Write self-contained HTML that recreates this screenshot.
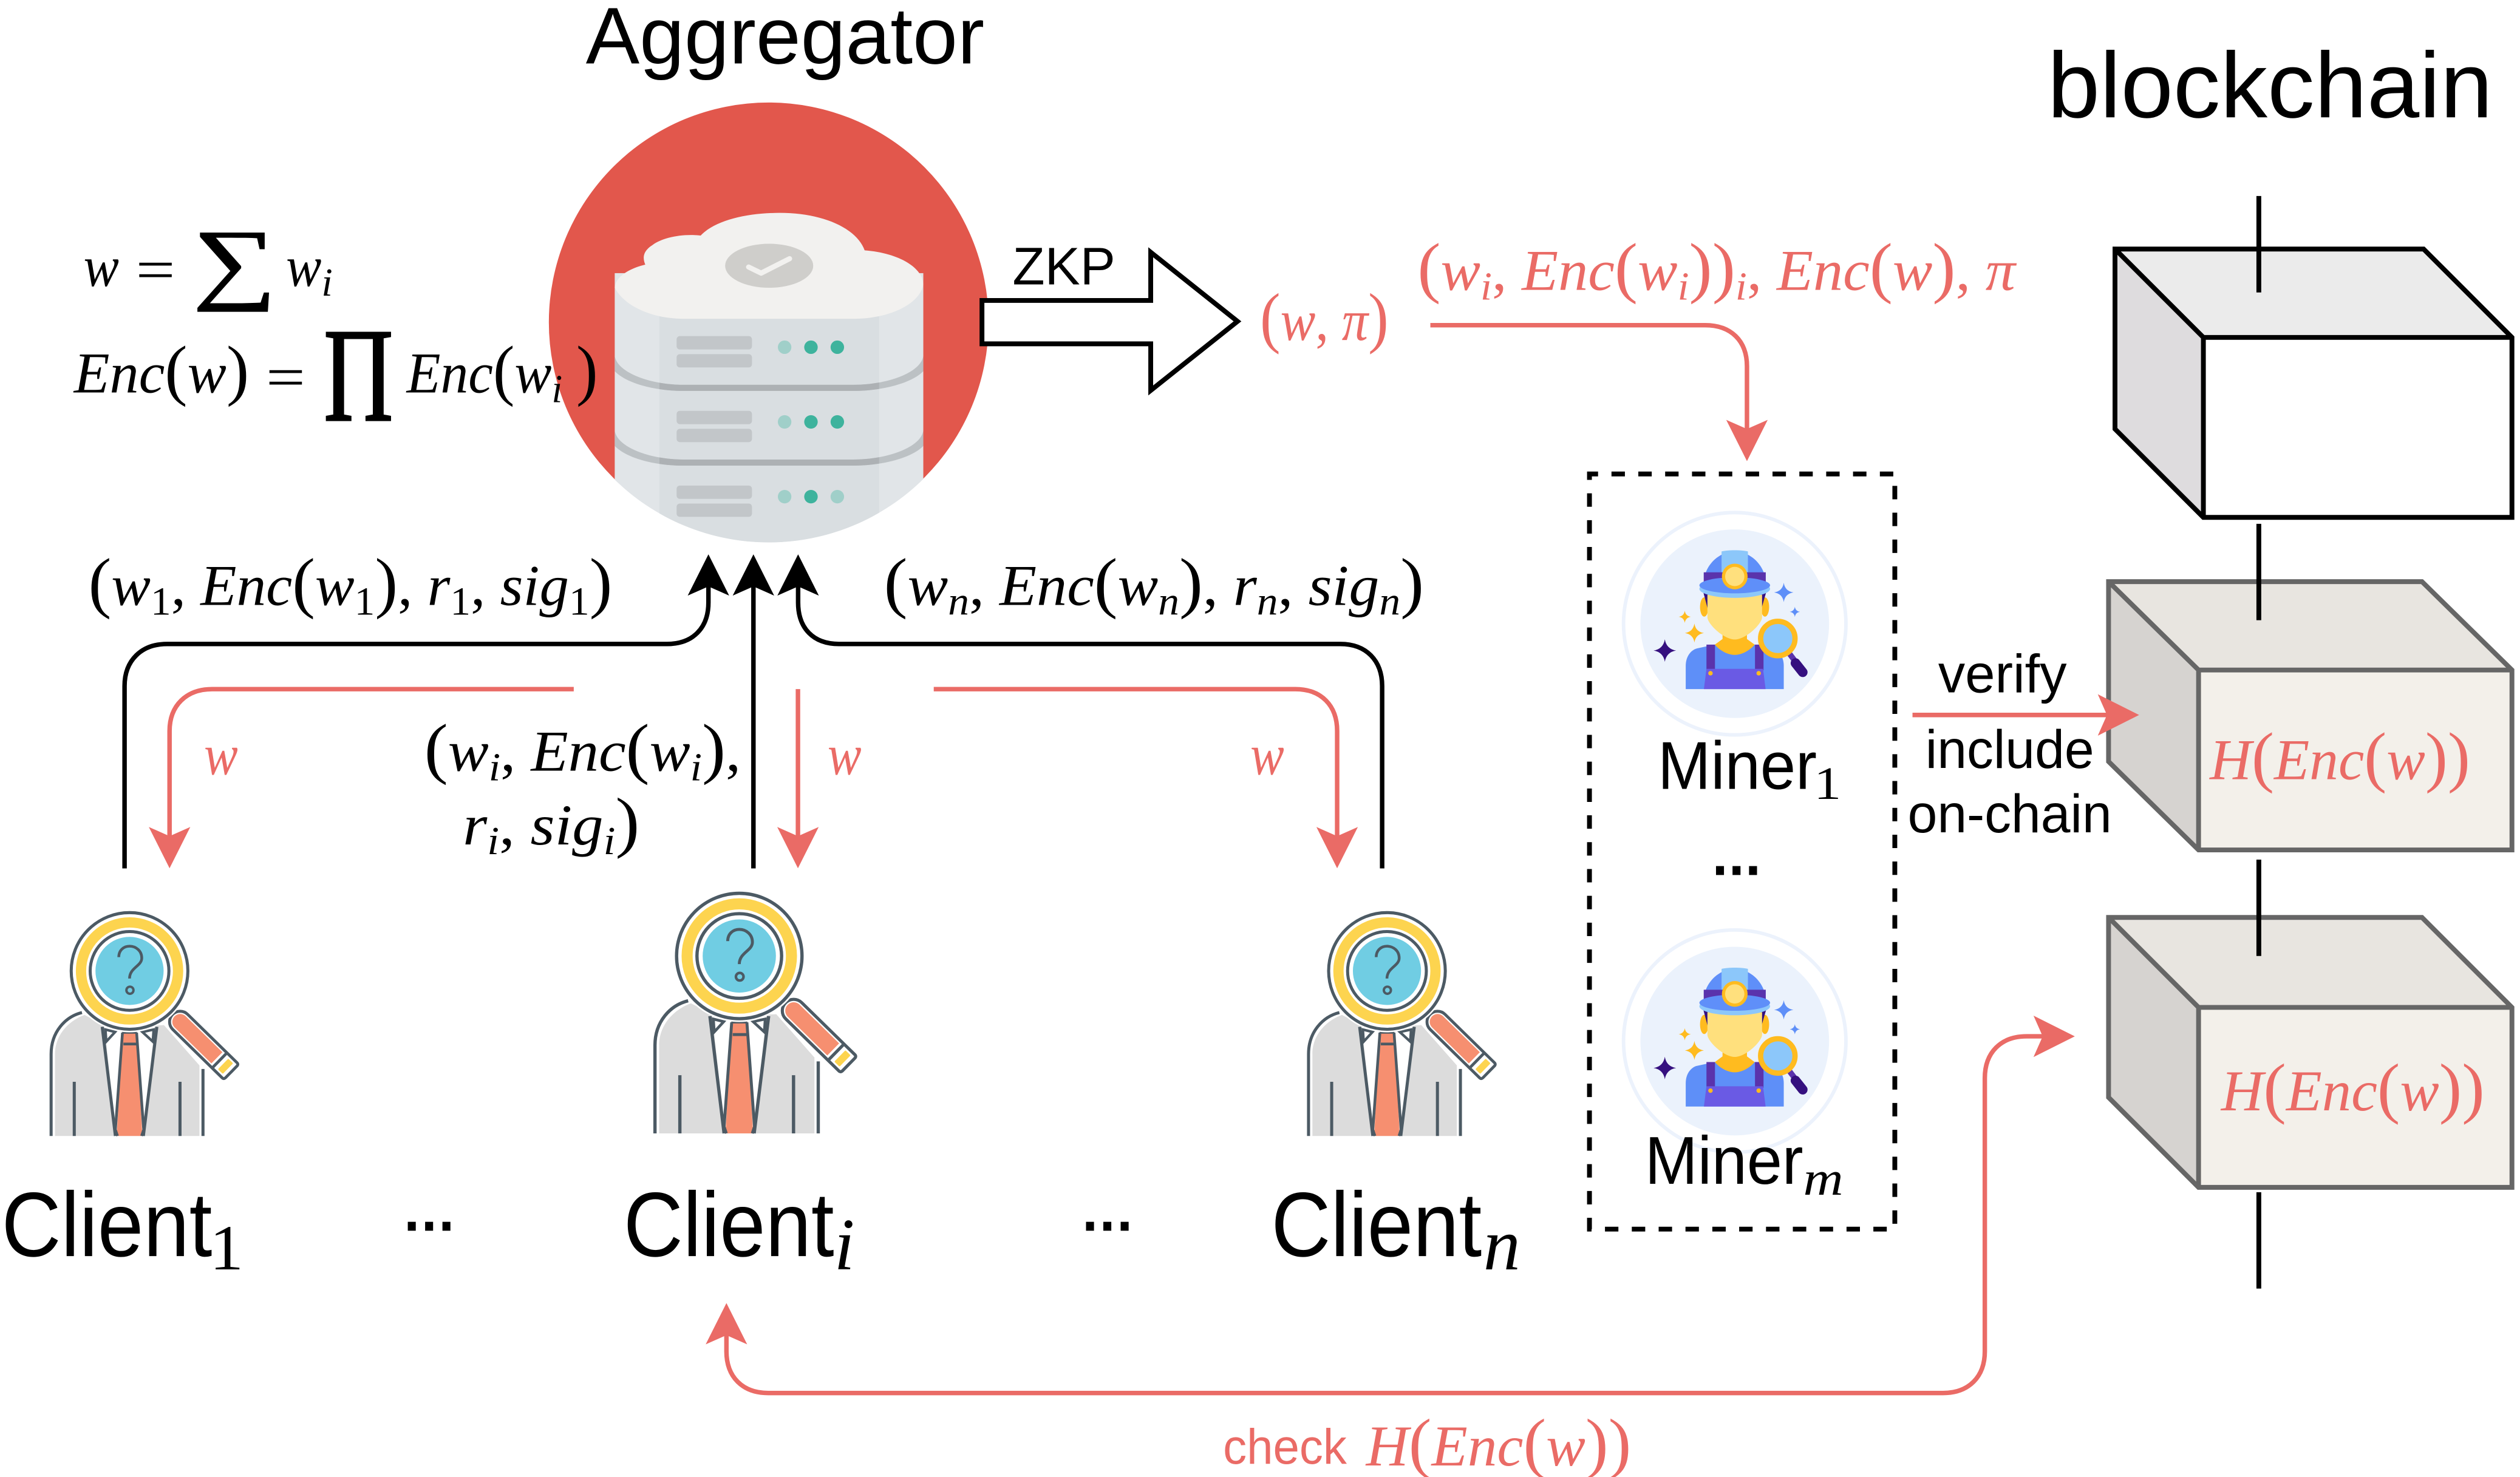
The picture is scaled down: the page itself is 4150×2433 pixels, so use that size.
<!DOCTYPE html>
<html><head><meta charset="utf-8">
<style>
html,body{margin:0;padding:0;background:#fff}
svg{display:block}
text{font-family:"Liberation Sans",sans-serif;fill:#000;white-space:pre}
.m{font-family:"Liberation Serif",serif;font-size:36px}
.r{fill:#ea6b66}
.i{font-style:italic}
.s{font-size:25px}
.p{font-size:42px}
.ln{fill:none;stroke:#000;stroke-width:2.8}
.rl{fill:none;stroke:#ea6b66;stroke-width:2.8}
</style></head><body>
<svg xmlns="http://www.w3.org/2000/svg" width="4150" height="2433" viewBox="0 0 1568 919.27">
<defs>
<path id="hb" d="M0,0L12.9,25.7L0,20L-12.9,25.7Z"/>
<clipPath id="cc"><circle cx="478.3" cy="200.6" r="137"/></clipPath>
<clipPath id="mid"><rect x="410.3" y="100" width="136.7" height="300"/></clipPath>
<g id="bars">
<rect x="421" y="209.2" width="46.9" height="8.3" rx="2" fill="#c2c6c9"/>
<rect x="421" y="220.4" width="46.9" height="8.3" rx="2" fill="#c2c6c9"/>
</g>
<g id="band">
<path d="M382.5,221.5C384,232 405,239.5 425,239.5H531C552,239.5 573,232 574.5,221.5V231C568,238 550,243.3 531,243.3H425C406,243.3 389,238 382.5,231Z" fill="#bcc1c4"/>
<path clip-path="url(#mid)" d="M382.5,221.5C384,232 405,239.5 425,239.5H531C552,239.5 573,232 574.5,221.5V231C568,238 550,243.3 531,243.3H425C406,243.3 389,238 382.5,231Z" fill="#adb1b4"/>
</g>
<g id="client">
<path d="M-46.4,102.7V51.7C-46.4,40 -38,31 -28,27.4L-15,34L16,34L21.4,33.7L43.5,58.8V102.7Z" fill="#dcdcdc"/>
<path d="M-48.8,102.7V51.7C-48.8,38 -40,28.5 -29.6,25.9" fill="none" stroke="#4c5a64" stroke-width="1.9"/>
<path d="M45.7,61V102.7M-34.4,69V102.7M31.4,69V102.7" fill="none" stroke="#4c5a64" stroke-width="1.9"/>
<path d="M-15.5,35L-8.5,102.7H8.5L15.5,35Z" fill="#fff"/>
<path d="M-17,34.8L-8.8,102.7M17,34.8L8.6,102.7" fill="none" stroke="#4c5a64" stroke-width="1.9"/>
<path d="M-15,36.5L-9,38L-14.5,44ZM15,36.5L8,38L14.5,44Z" fill="#fff" stroke="#4c5a64" stroke-width="1.6"/>
<path d="M-4.4,38.5H4.4L8,102.7H-8Z" fill="#f68f70"/>
<path d="M-4.6,38.2H4.6M-3.8,45.5H4.4M-4.4,38.4L-8.8,98.8L-7.5,102.7M4.4,38.4L8.8,98.8L7.5,102.7" fill="none" stroke="#4c5a64" stroke-width="1.7"/>
<g transform="translate(31.5,31.7) rotate(44.4)">
<path d="M0,-8.8H44Q46.5,-8.8 46.5,-6V6Q46.5,8.8 44,8.8H0A8.8,8.8 0 0 1 0,-8.8Z" fill="#fff"/>
<path d="M0,-6.6H43Q44.5,-6.6 44.5,-5V5Q44.5,6.6 43,6.6H0A6.6,6.6 0 0 1 0,-6.6Z" fill="#fff" stroke="#4c5a64" stroke-width="1.8"/>
<path d="M0,-4.9H32V4.9H0A4.9,4.9 0 0 1 0,-4.9Z" fill="#f68f70"/>
<line x1="34.3" y1="-6.6" x2="34.3" y2="6.6" stroke="#4c5a64" stroke-width="1.8"/>
<rect x="37.4" y="-4.6" width="4.2" height="9.2" rx="0.6" fill="#fdd44f"/>
</g>
<circle r="38.2" fill="#fff"/>
<circle r="36.3" fill="#fff" stroke="#4c5a64" stroke-width="1.9"/>
<circle r="30.2" fill="none" stroke="#fdd44f" stroke-width="6.4"/>
<circle r="24.5" fill="none" stroke="#4c5a64" stroke-width="1.9"/>
<circle r="21.2" fill="#70cde3"/>
<path d="M-6.7,-8.6C-6.7,-13 -3.5,-15.4 0,-15.4C4,-15.4 7.6,-12.5 7.6,-8C7.6,-3 0,-2 0,4.7" fill="none" stroke="#4c5a64" stroke-width="1.7"/>
<circle cx="0.25" cy="12" r="2.2" fill="none" stroke="#4c5a64" stroke-width="1.5"/>
</g>
<g id="miner">
<circle r="69.2" fill="#fff" stroke="#ecf2fc" stroke-width="2.2"/>
<circle r="58.7" fill="#ebf2fc"/>
<path d="M-43.5,9.7Q-42.5,15.7 -36.5,16.7Q-42.5,17.7 -43.5,23.7Q-44.5,17.7 -50.5,16.7Q-44.5,15.7 -43.5,9.7Z" fill="#35107f"/>
<path d="M-25.1,-0.1Q-24.3,5 -19.2,5.8Q-24.3,6.6 -25.1,11.7Q-25.9,6.6 -31,5.8Q-25.9,5 -25.1,-0.1Z" fill="#ffbb1f"/>
<path d="M-31.1,-8.1Q-30.6,-4.8 -27.3,-4.3Q-30.6,-3.8 -31.1,-0.5Q-31.6,-3.8 -34.9,-4.3Q-31.6,-4.8 -31.1,-8.1Z" fill="#ffbb1f"/>
<path d="M30.5,-25.5Q31.3,-20.3 36.5,-19.5Q31.3,-18.7 30.5,-13.5Q29.7,-18.7 24.5,-19.5Q29.7,-20.3 30.5,-25.5Z" fill="#5e8ff8"/>
<path d="M37.4,-10.6Q37.8,-7.8 40.6,-7.4Q37.8,-7 37.4,-4.2Q37,-7 34.2,-7.4Q37,-7.8 37.4,-10.6Z" fill="#5e8ff8"/>
<path d="M-30.5,40.7V26.2C-30.5,20 -27,16.5 -24,15.5L-12.6,13H12.6L23.9,15.5C28,17 30.5,21 30.5,26.2V40.7Z" fill="#5e8ff8"/>
<path d="M-7.6,7L-7.6,9.5L-12.4,13C-9,17 -4,19.4 0,19.4C4,19.4 9,17 12.4,13L7.6,9.5L7.6,7Z" fill="#ffbb1f"/>
<ellipse cx="-19" cy="-10.4" rx="2.6" ry="6" fill="#ffbb1f"/>
<ellipse cx="18.8" cy="-10.4" rx="2.6" ry="6" fill="#ffbb1f"/>
<path d="M-19.5,-19.4H-16.5V-8ZM19.5,-19.4H16.5V-9Z" fill="#35107f"/>
<path d="M-17,-18H17V-4C17,0 7,9.8 0,9.8C-7,9.8 -17,0 -17,-4Z" fill="#ffe07d"/>
<rect x="-17.6" y="13" width="5.3" height="16" fill="#5a33ac"/>
<rect x="12.6" y="13" width="5.3" height="16" fill="#5a33ac"/>
<path d="M-17.6,28.1H17.6L19.2,40.7H-19.2Z" fill="#6a5ae4"/>
<circle cx="-15.1" cy="30.8" r="1.4" fill="#ffbb1f"/>
<circle cx="14.9" cy="30.8" r="1.4" fill="#ffbb1f"/>
<path d="M-19.3,-25C-19.3,-36 -10,-45 0,-45C10,-45 19.3,-36 19.3,-25Z" fill="#5f8ff9"/>
<path d="M-8.2,-45C-4,-46 4,-46 8.2,-45V-31H-8.2Z" fill="#8cc7fa"/>
<rect x="-19.3" y="-32" width="38.6" height="6" fill="#5a33ac"/>
<ellipse cy="-21.7" rx="22" ry="5.6" fill="#8cc7fa"/>
<ellipse cy="-23.9" rx="22" ry="5" fill="#5f8ff9"/>
<circle cy="-29.4" r="8" fill="#ffbb1f"/>
<circle cy="-29.4" r="6" fill="#ffe07d"/>
<line x1="34" y1="18.6" x2="37.8" y2="23.6" stroke="#5a33ac" stroke-width="3.5"/>
<line x1="37.8" y1="24.5" x2="42.3" y2="30.2" stroke="#35107f" stroke-width="6" stroke-linecap="round"/>
<circle cx="26.8" cy="9.2" r="10.7" fill="#8cc7fa" stroke="#ffbb1f" stroke-width="3.3"/>
</g>
</defs>

<!-- aggregator -->
<circle cx="478.3" cy="200.6" r="136.8" fill="#e2574c"/>
<g clip-path="url(#cc)">
<rect x="382.5" y="170" width="192" height="180" fill="#e1e5e8"/>
<rect x="410.3" y="170" width="136.7" height="180" fill="#d9dee1"/>
<use href="#band"/>
<use href="#band" y="46.5"/>
<use href="#bars"/>
<use href="#bars" y="46.5"/>
<use href="#bars" y="93"/>
<circle cx="488.2" cy="216.1" r="4.2" fill="#a0cfc9"/><circle cx="504.6" cy="216.1" r="4.2" fill="#3eb39d"/><circle cx="521" cy="216.1" r="4.2" fill="#3eb39d"/>
<circle cx="488.2" cy="262.6" r="4.2" fill="#a0cfc9"/><circle cx="504.6" cy="262.6" r="4.2" fill="#3eb39d"/><circle cx="521" cy="262.6" r="4.2" fill="#3eb39d"/>
<circle cx="488.2" cy="309.1" r="4.2" fill="#a0cfc9"/><circle cx="504.6" cy="309.1" r="4.2" fill="#3eb39d"/><circle cx="521" cy="309.1" r="4.2" fill="#a0cfc9"/>
</g>
<path d="M382.5,179C383,172 392,167 401.5,164.7C399.5,160 400.5,156 406,152.5C412,148 424,145.3 436,146.6C445,137 465,132.5 485,132.5C512,132.5 533,142 538,155.8C560,157.5 574.5,167 574.5,177.2C572,190 552,198.4 531.4,198.4H425.4C405,198.4 388,190 382.5,179Z" fill="#f2f1ef"/>
<ellipse cx="478.6" cy="165.4" rx="27.4" ry="13.7" fill="#cfcecb"/>
<path d="M465.8,166.2L473.6,170L491.3,161" fill="none" stroke="#f2f1ef" stroke-width="3.2" stroke-linecap="round" stroke-linejoin="round"/>
<text x="364.5" y="39.5" font-size="50" textLength="248" lengthAdjust="spacingAndGlyphs">Aggregator</text>

<!-- formulas -->
<text class="m i" x="52" y="178" textLength="22" lengthAdjust="spacingAndGlyphs">w</text>
<text class="m" x="84.5" y="180" textLength="24.5" lengthAdjust="spacingAndGlyphs">=</text>
<text class="m" x="120" y="181.8" style="font-size:56px;stroke:#000;stroke-width:.7" textLength="52" lengthAdjust="spacingAndGlyphs">∑</text>
<text class="m i" x="178" y="178" textLength="22" lengthAdjust="spacingAndGlyphs">w</text>
<text class="m s i" x="200" y="184" style="font-size:25px">i</text>
<text class="m" x="46" y="244.3" textLength="109" lengthAdjust="spacingAndGlyphs"><tspan class="i">Enc</tspan><tspan class="p">(</tspan><tspan class="i">w</tspan><tspan class="p">)</tspan></text>
<text class="m" x="165.5" y="247" textLength="24.5" lengthAdjust="spacingAndGlyphs">=</text>
<text class="m" x="200.5" y="248" style="font-size:62px;stroke:#000;stroke-width:1.8" textLength="45" lengthAdjust="spacingAndGlyphs">∏</text>
<text class="m" x="253" y="244.3" textLength="119" lengthAdjust="spacingAndGlyphs"><tspan class="i">Enc</tspan><tspan class="p">(</tspan><tspan class="i">w</tspan><tspan class="s i" dy="6">i</tspan><tspan dy="-6"> </tspan><tspan class="p">)</tspan></text>

<!-- ZKP arrow -->
<path d="M611,187H716V157L770,200L716,243V214H611Z" fill="#fff" stroke="#000" stroke-width="3" stroke-linejoin="miter"/>
<text x="630" y="177" font-size="33" textLength="64" lengthAdjust="spacingAndGlyphs">ZKP</text>

<!-- black arrows -->
<path class="ln" d="M77.5,540.5V427C77.5,411 88,400.8 104,400.8H415C431,400.8 440.8,391 440.8,375V362"/>
<use href="#hb" x="440.8" y="345"/>
<path class="ln" d="M468.8,540.5V362"/>
<use href="#hb" x="468.8" y="345"/>
<path class="ln" d="M860,540.5V427C860,411 850,400.8 834,400.8H522C506,400.8 496.6,391 496.6,375V362"/>
<use href="#hb" x="496.6" y="345"/>

<!-- red arrows -->
<path class="rl" d="M357,428.9H132C116,428.9 105.5,439 105.5,455V522"/>
<use href="#hb" transform="rotate(180 105.5 540.4) translate(105.5 540.4)" fill="#ea6b66"/>
<path class="rl" d="M496.5,428.9V522"/>
<use href="#hb" transform="rotate(180 496.5 540.4) translate(496.5 540.4)" fill="#ea6b66"/>
<path class="rl" d="M581,428.9H806C822,428.9 832,439 832,455V522"/>
<use href="#hb" transform="rotate(180 832 540.4) translate(832 540.4)" fill="#ea6b66"/>
<path class="rl" d="M890,202.4H1061C1077,202.4 1087,212 1087,228V268"/>
<use href="#hb" transform="rotate(180 1087 287) translate(1087 287)" fill="#ea6b66"/>
<path class="rl" d="M452,830V841C452,857 462,867 478,867H1209C1225,867 1235,857 1235,841V671C1235,655 1245,645 1261,645H1272"/>
<use href="#hb" x="452" y="811" fill="#ea6b66"/>
<use href="#hb" transform="rotate(90 1291 645) translate(1291 645)" fill="#ea6b66"/>

<!-- math labels -->
<text class="m" x="55" y="376.5" textLength="326" lengthAdjust="spacingAndGlyphs"><tspan class="p">(</tspan><tspan class="i">w</tspan><tspan class="s" dy="6">1</tspan><tspan dy="-6">, </tspan><tspan class="i">Enc</tspan><tspan class="p">(</tspan><tspan class="i">w</tspan><tspan class="s" dy="6">1</tspan><tspan dy="-6" class="p">)</tspan>, <tspan class="i">r</tspan><tspan class="s" dy="6">1</tspan><tspan dy="-6">, </tspan><tspan class="i">sig</tspan><tspan class="s" dy="6">1</tspan><tspan dy="-6" class="p">)</tspan></text>
<text class="m" x="550" y="376.5" textLength="336" lengthAdjust="spacingAndGlyphs"><tspan class="p">(</tspan><tspan class="i">w</tspan><tspan class="s i" dy="6">n</tspan><tspan dy="-6">, </tspan><tspan class="i">Enc</tspan><tspan class="p">(</tspan><tspan class="i">w</tspan><tspan class="s i" dy="6">n</tspan><tspan dy="-6" class="p">)</tspan>, <tspan class="i">r</tspan><tspan class="s i" dy="6">n</tspan><tspan dy="-6">, </tspan><tspan class="i">sig</tspan><tspan class="s i" dy="6">n</tspan><tspan dy="-6" class="p">)</tspan></text>
<text class="m" x="264" y="479.7" textLength="197" lengthAdjust="spacingAndGlyphs"><tspan class="p">(</tspan><tspan class="i">w</tspan><tspan class="s i" dy="6">i</tspan><tspan dy="-6">, </tspan><tspan class="i">Enc</tspan><tspan class="p">(</tspan><tspan class="i">w</tspan><tspan class="s i" dy="6">i</tspan><tspan dy="-6" class="p">)</tspan>,</text>
<text class="m" x="288" y="525.6" textLength="110" lengthAdjust="spacingAndGlyphs"><tspan class="i">r</tspan><tspan class="s i" dy="6">i</tspan><tspan dy="-6">, </tspan><tspan class="i">sig</tspan><tspan class="s i" dy="6">i</tspan><tspan dy="-6" class="p">)</tspan></text>
<text class="m i r" x="127" y="482" textLength="21" lengthAdjust="spacingAndGlyphs">w</text>
<text class="m i r" x="515" y="482" textLength="21" lengthAdjust="spacingAndGlyphs">w</text>
<text class="m i r" x="778" y="482" textLength="21" lengthAdjust="spacingAndGlyphs">w</text>
<text class="m r" x="784" y="211.5" textLength="80" lengthAdjust="spacingAndGlyphs"><tspan class="p">(</tspan><tspan class="i">w</tspan>, <tspan class="i">π</tspan><tspan class="p">)</tspan></text>
<text class="m r" x="882" y="180.5" textLength="372" lengthAdjust="spacingAndGlyphs"><tspan class="p">(</tspan><tspan class="i">w</tspan><tspan class="s i" dy="6">i</tspan><tspan dy="-6">, </tspan><tspan class="i">Enc</tspan><tspan class="p">(</tspan><tspan class="i">w</tspan><tspan class="s i" dy="6">i</tspan><tspan dy="-6" class="p">))</tspan><tspan class="s i" dy="6">i</tspan><tspan dy="-6">, </tspan><tspan class="i">Enc</tspan><tspan class="p">(</tspan><tspan class="i">w</tspan><tspan class="p">)</tspan>, <tspan class="i">π</tspan></text>

<!-- clients -->
<use href="#client" x="80.6" y="604.3"/>
<use href="#client" transform="translate(460,595) scale(1.075,1.075)"/>
<use href="#client" x="863" y="604.3"/>
<text x="1" y="781.8" font-size="57" textLength="131" lengthAdjust="spacingAndGlyphs">Client</text>
<text class="m" x="130.5" y="790" style="font-size:40px" textLength="21" lengthAdjust="spacingAndGlyphs">1</text>
<text x="388" y="781.8" font-size="57" textLength="131" lengthAdjust="spacingAndGlyphs">Client</text>
<text class="m i" x="519" y="790" style="font-size:46px">i</text>
<text x="791" y="781.8" font-size="57" textLength="131" lengthAdjust="spacingAndGlyphs">Client</text>
<text class="m i" x="923" y="790" style="font-size:46px">n</text>
<text x="249" y="766" font-size="52" textLength="36">...</text>
<text x="671" y="766" font-size="52" textLength="36">...</text>

<!-- miners -->
<rect x="989" y="295" width="190" height="470" fill="none" stroke="#000" stroke-width="3" stroke-dasharray="8.35 8.35" stroke-dashoffset="3"/>
<use href="#miner" x="1079.4" y="388.2"/>
<use href="#miner" x="1079.4" y="648"/>
<text x="1031.5" y="491" font-size="42" textLength="99" lengthAdjust="spacingAndGlyphs">Miner</text>
<text class="m" x="1128.7" y="497.3" style="font-size:29px" textLength="17" lengthAdjust="spacingAndGlyphs">1</text>
<text x="1023.5" y="736.8" font-size="42" textLength="98.5" lengthAdjust="spacingAndGlyphs">Miner</text>
<text class="m i" x="1122" y="743.6" style="font-size:30px" textLength="25" lengthAdjust="spacingAndGlyphs">m</text>
<text x="1063" y="544.6" font-size="52" textLength="35">...</text>

<!-- blockchain -->
<text x="1274" y="73" font-size="58" textLength="277" lengthAdjust="spacingAndGlyphs">blockchain</text>
<path d="M1316,155H1508L1563,210H1371Z" fill="#ebebeb"/>
<path d="M1316,155L1371,210V322L1316,267Z" fill="#dedcde"/>
<path d="M1316,155H1508L1563,210V322H1371L1316,267ZM1316,155L1371,210H1563M1371,210V322" fill="none" stroke="#000" stroke-width="3"/>
<path d="M1312,362H1507L1563,417H1368Z" fill="#e8e5e0"/>
<path d="M1312,362L1368,417V529L1312,474Z" fill="#d6d3d0"/>
<rect x="1368" y="417" width="195" height="112" fill="#f3f0ea"/>
<path d="M1312,362H1507L1563,417V529H1368L1312,474ZM1312,362L1368,417H1563M1368,417V529" fill="none" stroke="#666" stroke-width="3"/>
<path d="M1312,571H1507L1563,627H1368Z" fill="#e8e5e0"/>
<path d="M1312,571L1368,627V739L1312,683Z" fill="#d6d3d0"/>
<rect x="1368" y="627" width="195" height="112" fill="#f3f0ea"/>
<path d="M1312,571H1507L1563,627V739H1368L1312,683ZM1312,571L1368,627H1563M1368,627V739" fill="none" stroke="#666" stroke-width="3"/>
<path d="M1405.5,122V182M1405.5,326V386M1405.5,535V595M1405.5,742V802" fill="none" stroke="#000" stroke-width="3"/>
<text class="m r" x="1375" y="485" textLength="162" lengthAdjust="spacingAndGlyphs"><tspan class="i">H</tspan><tspan class="p">(</tspan><tspan class="i">Enc</tspan><tspan class="p">(</tspan><tspan class="i">w</tspan><tspan class="p">))</tspan></text>
<text class="m r" x="1382" y="691" textLength="164" lengthAdjust="spacingAndGlyphs"><tspan class="i">H</tspan><tspan class="p">(</tspan><tspan class="i">Enc</tspan><tspan class="p">(</tspan><tspan class="i">w</tspan><tspan class="p">))</tspan></text>

<!-- verify -->
<path class="rl" d="M1190,445H1315"/>
<use href="#hb" transform="rotate(90 1331 445) translate(1331 445)" fill="#ea6b66"/>
<text x="1206" y="431" font-size="33.5" textLength="80" lengthAdjust="spacingAndGlyphs">verify</text>
<text x="1198" y="478" font-size="33.5" textLength="105" lengthAdjust="spacingAndGlyphs">include</text>
<text x="1187" y="518" font-size="33.5" textLength="127" lengthAdjust="spacingAndGlyphs">on-chain</text>

<!-- check -->
<text class="r" x="761" y="911" font-size="31" textLength="77" lengthAdjust="spacingAndGlyphs">check</text>
<text class="m r" x="850" y="912" textLength="165" lengthAdjust="spacingAndGlyphs"><tspan class="i">H</tspan><tspan class="p">(</tspan><tspan class="i">Enc</tspan><tspan class="p">(</tspan><tspan class="i">w</tspan><tspan class="p">))</tspan></text>
</svg>
</body></html>
